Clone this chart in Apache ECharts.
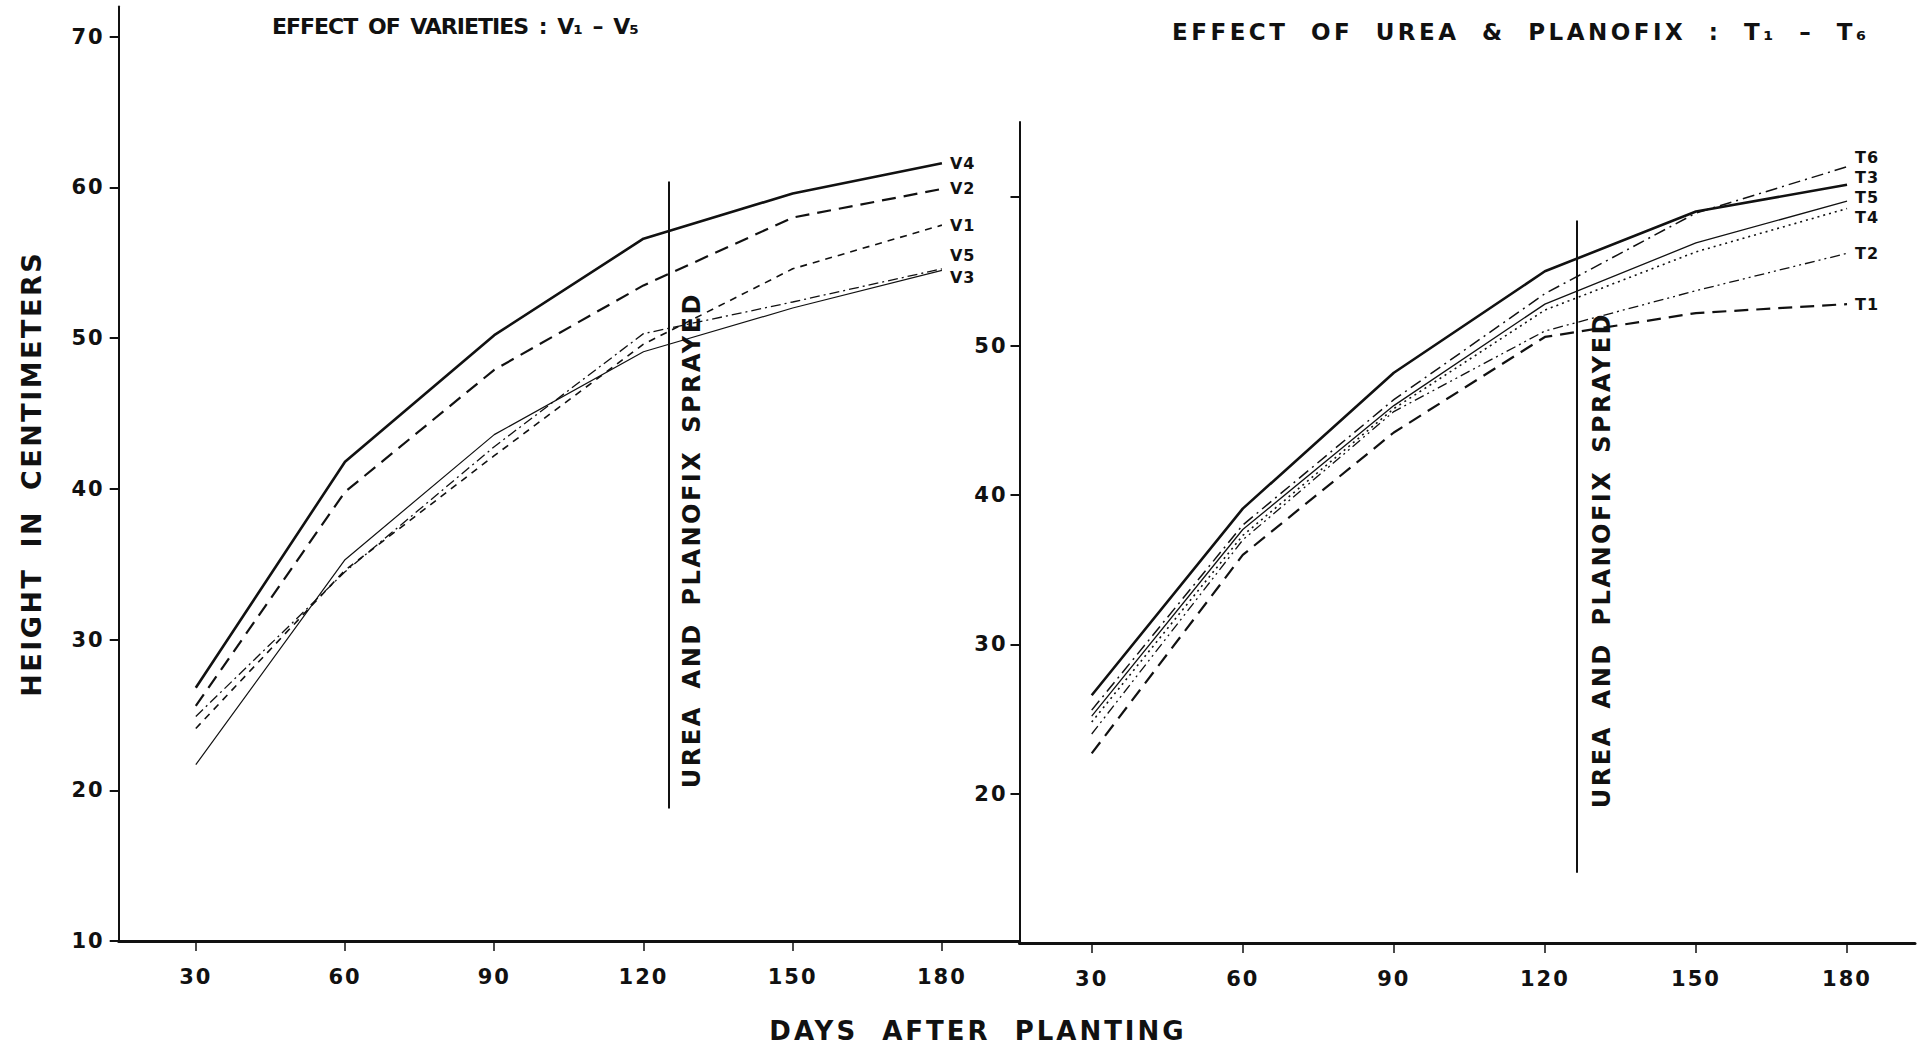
<!DOCTYPE html>
<html><head><meta charset="utf-8">
<script src="https://cdn.jsdelivr.net/npm/echarts@6/dist/echarts.min.js"></script>
<style>
html,body{margin:0;padding:0;background:#fff}
#c{width:1919px;height:1046px}
/* letter spacing per text role (roles are told apart by font size) */
#c text[style*="21px"]{letter-spacing:2px}
#c text[style*="16px"]{letter-spacing:1px}
#c text[style*="22px"]{letter-spacing:-1px;word-spacing:4px}
#c text[style*="23px"]{letter-spacing:3.5px;word-spacing:11px}
#c text[style*="27px"]{letter-spacing:2.5px;word-spacing:8px}
#c text[style*="26px"]{letter-spacing:3px;word-spacing:12px}
#c text[style*="24px"]{letter-spacing:2.5px;word-spacing:6px}
</style>
</head><body><div id="c"></div>
<script>
// ---- data ----
const days = [30, 60, 90, 120, 150, 180];
const xTickValues = [30, 60, 90, 120, 150, 180];
const leftYTicks = [10, 20, 30, 40, 50, 60, 70];
const rightYTickMarks = [20, 30, 40, 50, 60];
const rightYTickLabels = [20, 30, 40, 50];

// Effect of varieties (left panel)
const V1 = [24.1, 34.6, 42.2, 49.6, 54.6, 57.5];
const V2 = [25.6, 39.8, 47.9, 53.5, 58.0, 59.9];
const V3 = [21.7, 35.3, 43.6, 49.1, 52.0, 54.5];
const V4 = [26.8, 41.8, 50.2, 56.6, 59.6, 61.6];
const V5 = [24.9, 34.5, 42.8, 50.3, 52.4, 54.6];

// Effect of urea & planofix (right panel)
const T1 = [22.7, 36.0, 44.2, 50.6, 52.2, 52.8];
const T2 = [24.0, 37.0, 45.6, 51.0, 53.7, 56.2];
const T3 = [26.6, 39.1, 48.2, 55.0, 59.0, 60.8];
const T4 = [24.8, 37.3, 45.8, 52.4, 56.3, 59.2];
const T5 = [25.2, 37.7, 46.0, 52.8, 56.9, 59.7];
const T6 = [25.6, 38.0, 46.4, 53.5, 58.9, 62.0];

// spraying marker (day, top value, bottom value)
const sprayLeft = [125, 60.4, 18.8];
const sprayRight = [126.3, 58.4, 14.7];

const FONT = 'DejaVu Sans';
const INK = '#111';
const SPACING = {21: 2, 16: 1, 22: -1, 23: 3.5, 27: 2.5, 26: 3, 24: 2.5};
const WORDSP = {22: 4, 23: 11, 27: 8, 26: 12, 24: 6};

const chart = echarts.init(document.getElementById('c'), null, {renderer: 'svg'});
const pairs = arr => days.map((d, i) => [d, arr[i]]);

function line(name, arr, gi, style, dy) {
  return {
    name: name, type: 'line', xAxisIndex: gi, yAxisIndex: gi,
    data: pairs(arr), showSymbol: false, symbol: 'none', silent: true,
    lineStyle: Object.assign({color: INK}, style),
    endLabel: {show: true, formatter: name, color: INK, fontFamily: FONT, fontWeight: 'bold',
      fontSize: 16, distance: 8, offset: [0, dy || 0]}
  };
}

const axisCommonX = (min, max) => ({
  type: 'value', min: min, max: max,
  axisLine: {show: true, onZero: false, lineStyle: {color: INK, width: 3}},
  axisTick: {show: true, length: 10, customValues: xTickValues, lineStyle: {color: INK, width: 1.5}},
  axisLabel: {customValues: xTickValues, margin: 25, color: INK, fontFamily: FONT, fontWeight: 'bold', fontSize: 21},
  splitLine: {show: false}
});

const series = [
  line('V4', V4, 0, {width: 2.6, type: 'solid'}, 0),
  line('V2', V2, 0, {width: 2.2, type: [14, 8]}, 0),
  line('V1', V1, 0, {width: 1.6, type: [7, 6]}, 0),
  line('V5', V5, 0, {width: 1.3, type: [10, 4, 2, 4]}, -13),
  line('V3', V3, 0, {width: 1.2, type: 'solid'}, 7),
  line('T6', T6, 1, {width: 1.5, type: [12, 5, 2, 5]}, -9),
  line('T3', T3, 1, {width: 2.6, type: 'solid'}, -7),
  line('T5', T5, 1, {width: 1.3, type: 'solid'}, -4),
  line('T4', T4, 1, {width: 1.6, type: [2, 4]}, 9),
  line('T2', T2, 1, {width: 1.3, type: [10, 4, 2, 4, 2, 4]}, 0),
  line('T1', T1, 1, {width: 2.2, type: [14, 8]}, 0)
];
series[4].markLine = {silent: true, symbol: 'none', label: {show: false},
  lineStyle: {color: INK, width: 2, type: 'solid'},
  data: [[{coord: [sprayLeft[0], sprayLeft[1]]}, {coord: [sprayLeft[0], sprayLeft[2]]}]]};
series[10].markLine = {silent: true, symbol: 'none', label: {show: false},
  lineStyle: {color: INK, width: 2, type: 'solid'},
  data: [[{coord: [sprayRight[0], sprayRight[1]]}, {coord: [sprayRight[0], sprayRight[2]]}]]};

chart.setOption({
  animation: false,
  backgroundColor: '#fff',
  title: [
    {text: 'EFFECT OF VARIETIES : V\u2081 \u2013 V\u2085', left: 272, top: 15, padding: 0,
      textStyle: {fontFamily: FONT, fontWeight: 'bold', fontSize: 22, color: INK}},
    {text: 'EFFECT OF UREA & PLANOFIX : T\u2081 \u2013 T\u2086', left: 1172, top: 20, padding: 0,
      textStyle: {fontFamily: FONT, fontWeight: 'bold', fontSize: 23, color: INK}}
  ],
  grid: [
    {left: 118.7, right: 899.5, top: 6.6, bottom: 105, containLabel: false},
    {left: 1019.5, right: 4, top: 122, bottom: 103, containLabel: false}
  ],
  xAxis: [
    Object.assign(axisCommonX(14.5, 195.6), {gridIndex: 0}),
    Object.assign(axisCommonX(15.66, 193.5), {gridIndex: 1})
  ],
  yAxis: [
    {type: 'value', gridIndex: 0, min: 10, max: 72,
      name: 'HEIGHT IN CENTIMETERS', nameLocation: 'middle', nameGap: 74, nameRotate: 90,
      nameTextStyle: {fontFamily: FONT, fontWeight: 'bold', fontSize: 27, color: INK},
      axisLine: {show: true, lineStyle: {color: INK, width: 2}},
      axisTick: {show: true, length: 9, customValues: leftYTicks, lineStyle: {color: INK, width: 2}},
      axisLabel: {customValues: leftYTicks, margin: 14, color: INK, fontFamily: FONT, fontWeight: 'bold', fontSize: 21},
      splitLine: {show: false}},
    {type: 'value', gridIndex: 1, min: 10, max: 65,
      axisLine: {show: true, lineStyle: {color: INK, width: 2}},
      axisTick: {show: true, length: 9, customValues: rightYTickMarks, lineStyle: {color: INK, width: 2}},
      axisLabel: {customValues: rightYTickLabels, margin: 12, color: INK, fontFamily: FONT, fontWeight: 'bold', fontSize: 21},
      splitLine: {show: false}}
  ],
  series: series
});

const pL = chart.convertToPixel({gridIndex: 0}, [sprayLeft[0], (sprayLeft[1] + sprayLeft[2]) / 2 - 3]);
const pR = chart.convertToPixel({gridIndex: 1}, [sprayRight[0], (sprayRight[1] + sprayRight[2]) / 2 - 0.9]);
const sprayStyle = t => ({text: t, align: 'center', verticalAlign: 'middle', fill: INK,
  font: 'bold 24px "DejaVu Sans"'});
chart.setOption({
  graphic: [
    {type: 'text', x: pL[0] + 24, y: pL[1], rotation: Math.PI / 2, silent: true,
      style: sprayStyle('UREA AND PLANOFIX SPRAYED')},
    {type: 'text', x: pR[0] + 25, y: pR[1], rotation: Math.PI / 2, silent: true,
      style: sprayStyle('UREA AND PLANOFIX SPRAYED')},
    {type: 'text', x: 978, y: 1031, silent: true,
      style: {text: 'DAYS AFTER PLANTING', align: 'center', verticalAlign: 'middle', fill: INK,
        font: 'bold 26px "DejaVu Sans"'}}
  ]
});

// fallback: apply the same spacing from computed font size
function applySpacing() {
  document.querySelectorAll('#c text').forEach(el => {
    const fs = Math.round(parseFloat(getComputedStyle(el).fontSize));
    if (SPACING[fs] !== undefined) el.style.letterSpacing = SPACING[fs] + 'px';
    if (WORDSP[fs] !== undefined) el.style.wordSpacing = WORDSP[fs] + 'px';
  });
}
try { chart.getZr().refreshImmediately(); } catch (e) {}
applySpacing();
chart.on('finished', applySpacing);
setTimeout(applySpacing, 30);
</script>
</body></html>
